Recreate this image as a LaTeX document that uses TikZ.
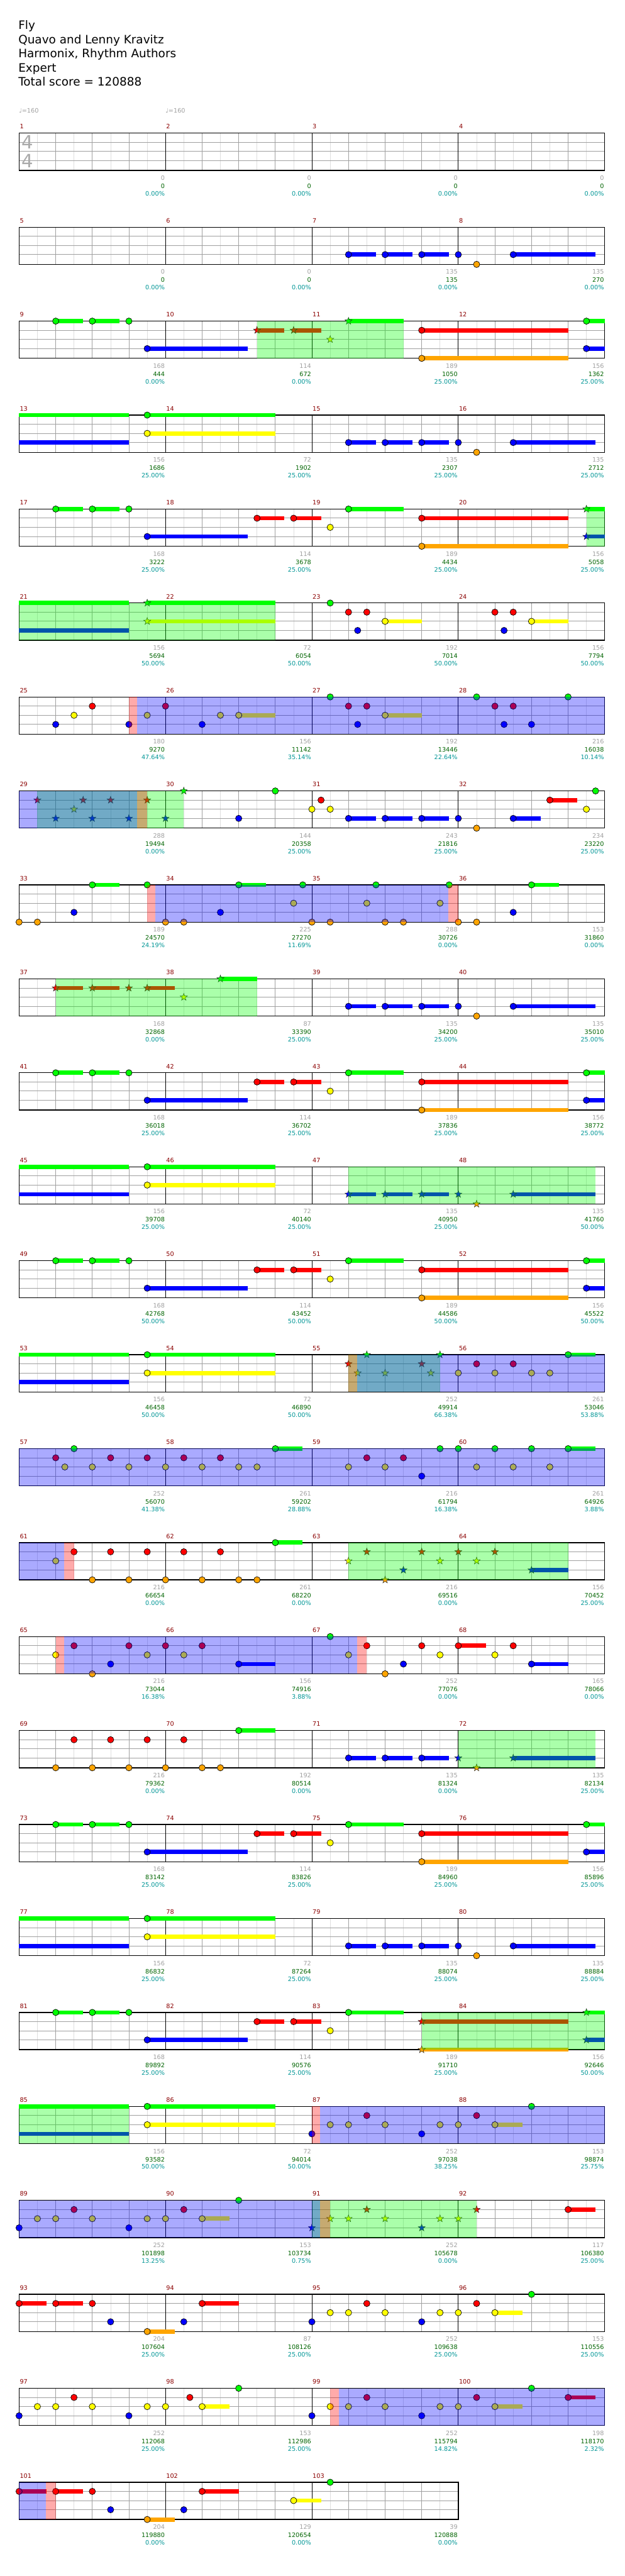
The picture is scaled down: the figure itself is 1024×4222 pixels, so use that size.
\documentclass[tikz,border=0pt]{standalone}
\usepackage{fontspec}
\setmainfont{DejaVu Sans}
\usepackage{xcolor}
\usepackage{tikz}

\definecolor{c0}{RGB}{0,255,0}
\definecolor{c1}{RGB}{255,0,0}
\definecolor{c2}{RGB}{255,255,0}
\definecolor{c3}{RGB}{0,0,255}
\definecolor{c4}{RGB}{255,165,0}
\definecolor{zgreen}{RGB}{0,255,0}
\definecolor{zblue}{RGB}{0,0,255}
\definecolor{zred}{RGB}{255,0,0}
\definecolor{numred}{RGB}{139,0,0}
\definecolor{scgray}{RGB}{160,160,160}
\definecolor{ttgreen}{RGB}{0,100,0}
\definecolor{pcteal}{RGB}{0,150,150}

\newcommand{\lanepos}[1]{(-15*#1-(#1==4))}
\newcommand{\hsus}[3]{\fill[c#3] (#1,{\lanepos{#3}+3.5}) rectangle (#2,{\lanepos{#3}-3.5});}
\newcommand{\hnote}[2]{\filldraw[notehead,fill=c#2] (#1,{\lanepos{#2}}) circle[radius=5.2pt];}
\newcommand{\hnotes}[3]{\hsus{#1}{#3}{#2}\hnote{#1}{#2}}
\newcommand{\hstar}[2]{\filldraw[starhead,fill=c#2,shift={(#1,{\lanepos{#2}})}] (90:6.2pt) -- (126:2.5pt) -- (162:6.2pt) -- (198:2.5pt) -- (234:6.2pt) -- (270:2.5pt) -- (306:6.2pt) -- (342:2.5pt) -- (18:6.2pt) -- (54:2.5pt) -- cycle;}
\newcommand{\hstars}[3]{\hsus{#1}{#3}{#2}\hstar{#1}{#2}}
\newcommand{\hzone}[3]{\fill[#3,fill opacity=0.333] (#1,0) rectangle (#2,-61);}
\newcommand{\staff}[1]{%
  \pgfmathtruncatemacro\stfa{#1-1}%
  \pgfmathtruncatemacro\stfb{#1-2}%
  \pgfmathtruncatemacro\stfc{#1-8}%
  \foreach \i in {1,3,...,\stfa} \draw[subline] (\i,0) -- (\i,-61);
  \foreach \i in {2,4,...,\stfb} \draw[beatline] (\i,0) -- (\i,-61);
  \foreach \l in {-15,-30,-45} \draw[staffline] (0,\l) -- (#1,\l);
  \foreach \i in {8,16,...,\stfc} \draw[barline] (\i,0) -- (\i,-61);
  \draw[frame] (0,0) rectangle (#1,-61);}
\newcommand{\bluerun}{\hnotes{18}{3}{19.5}\hnotes{20}{3}{21.5}\hnotes{22}{3}{23.5}\hnote{24}{3}\hnote{25}{4}\hnotes{27}{3}{31.5}}

\begin{document}
\begin{tikzpicture}[x=1pt,y=1pt,
  rowat/.style={shift={(31.3,{-218.3-154*#1})},x=30pt},
  subline/.style={draw={rgb,255:red,222;green,222;blue,222},line width=.8pt},
  beatline/.style={draw=scgray,line width=.8pt},
  staffline/.style={draw=scgray,line width=1pt},
  barline/.style={draw=black,line width=.9pt},
  frame/.style={draw=black,line width=1.3pt},
  notehead/.style={draw=black,line width=.7pt},
  starhead/.style={draw=black!85,line width=.5pt},
  title/.style={anchor=base west,inner sep=0pt,font=\fontsize{19}{23}\selectfont},
  tempo/.style={anchor=base west,inner sep=0pt,text=scgray,font=\fontsize{10}{12}\selectfont},
  timesig/.style={anchor=base west,inner sep=0pt,text=black!33,font=\fontsize{30}{30}\selectfont},
  mnum/.style={anchor=base west,inner sep=0pt,text=numred,font=\fontsize{10}{12}\selectfont},
  score/.style={anchor=base east,inner sep=0pt,text=scgray,font=\fontsize{10}{12}\selectfont},
  total/.style={anchor=base east,inner sep=0pt,text=ttgreen,font=\fontsize{10}{12}\selectfont},
  pct/.style={anchor=base east,inner sep=0pt,text=pcteal,font=\fontsize{10}{12}\selectfont}
]
\useasboundingbox[fill=white] (0,0) rectangle (1024,-4222);

\node[title] (song) at (30,-48.3) {Fly};
\node[title] (artist) at (30,-71.5) {Quavo and Lenny Kravitz};
\node[title] (authors) at (30,-94.7) {Harmonix, Rhythm Authors};
\node[title] (level) at (30,-117.9) {Expert};
\node[title] (totalscore) at (30,-141.1) {Total score = 120888};

\node[tempo] (tempo1) at (31,-185.5) {♩=160};
\node[tempo] (tempo2) at (271.3,-185.5) {♩=160};

\foreach \r in {0,...,24} {\begin{scope}[rowat=\r]\staff{32}\end{scope}}
\begin{scope}[rowat=25]\staff{24}\end{scope}

\node[timesig] (tsig1) at (35,-243.3) {4};
\node[timesig] (tsig2) at (35,-275) {4};

\begin{scope}[rowat=1]
\bluerun
\end{scope}
\begin{scope}[rowat=2]
\hnotes{2}{0}{3.5}\hnotes{4}{0}{5.5}\hnote{6}{0}\hnotes{7}{3}{12.5}\hstars{13}{1}{14.5}\hstars{15}{1}{16.5}\hstar{17}{2}\hstars{18}{0}{21}\hnotes{22}{1}{30}\hnotes{22}{4}{30}\hnotes{31}{0}{32}\hnotes{31}{3}{32}
\hzone{13}{21}{zgreen}
\end{scope}
\begin{scope}[rowat=3]
\hsus{0}{6}{0}\hsus{0}{6}{3}\hnotes{7}{0}{14}\hnotes{7}{2}{14}\bluerun
\end{scope}
\begin{scope}[rowat=4]
\hnotes{2}{0}{3.5}\hnotes{4}{0}{5.5}\hnote{6}{0}\hnotes{7}{3}{12.5}\hnotes{13}{1}{14.5}\hnotes{15}{1}{16.5}\hnote{17}{2}\hnotes{18}{0}{21}\hnotes{22}{1}{30}\hnotes{22}{4}{30}\hstars{31}{0}{32}\hstars{31}{3}{32}
\hzone{31}{32}{zgreen}
\end{scope}
\begin{scope}[rowat=5]
\hsus{0}{6}{0}\hsus{0}{6}{3}\hstars{7}{0}{14}\hstars{7}{2}{14}\hnote{17}{0}\hnote{18}{1}\hnote{19}{1}\hnote{18.5}{3}\hnotes{20}{2}{22}\hnote{26}{1}\hnote{27}{1}\hnote{26.5}{3}\hnotes{28}{2}{30}
\hzone{0}{14}{zgreen}
\end{scope}
\begin{scope}[rowat=6]
\hnote{2}{3}\hnote{3}{2}\hnote{4}{1}\hnote{6}{3}\hnote{7}{2}\hnote{8}{1}\hnote{10}{3}\hnote{11}{2}\hnotes{12}{2}{14}\hnote{17}{0}\hnote{18}{1}\hnote{19}{1}\hnote{18.5}{3}\hnotes{20}{2}{22}\hnote{25}{0}\hnote{26}{1}\hnote{27}{1}\hnote{26.5}{3}\hnote{28}{3}\hnote{30}{0}
\hzone{6}{6.46}{zred}\hzone{6.46}{32}{zblue}
\end{scope}
\begin{scope}[rowat=7]
\hstar{1}{1}\hstar{3.5}{1}\hstar{5}{1}\hstar{3}{2}\hstar{2}{3}\hstar{4}{3}\hstar{6}{3}\hstar{7}{1}\hstar{8}{3}\hstar{9}{0}\hnote{12}{3}\hnote{14}{0}\hnote{16}{2}\hnote{16.5}{1}\hnote{17}{2}\hnotes{18}{3}{19.5}\hnotes{20}{3}{21.5}\hnotes{22}{3}{23.5}\hnote{24}{3}\hnote{25}{4}\hnotes{27}{3}{28.5}\hnotes{29}{1}{30.5}\hnote{31}{2}\hnote{31.5}{0}
\hzone{1}{9}{zgreen}\hzone{0}{6.46}{zblue}\hzone{6.46}{7}{zred}
\end{scope}
\begin{scope}[rowat=8]
\hnote{0}{4}\hnote{1}{4}\hnote{3}{3}\hnotes{4}{0}{5.5}\hnote{7}{0}\hnote{8}{4}\hnote{9}{4}\hnote{11}{3}\hnotes{12}{0}{13.5}\hnote{15}{2}\hnote{15.5}{0}\hnote{16}{4}\hnote{17}{4}\hnote{19}{2}\hnote{19.5}{0}\hnote{20}{4}\hnote{21}{4}\hnote{23}{2}\hnote{23.5}{0}\hnote{24}{4}\hnote{25}{4}\hnote{27}{3}\hnotes{28}{0}{29.5}
\hzone{7}{7.46}{zred}\hzone{7.46}{23.46}{zblue}\hzone{23.46}{24}{zred}
\end{scope}
\begin{scope}[rowat=9]
\hstars{2}{1}{3.5}\hstars{4}{1}{5.5}\hstar{6}{1}\hstars{7}{1}{8.5}\hstar{9}{2}\hstars{11}{0}{13}\bluerun
\hzone{2}{13}{zgreen}
\end{scope}
\foreach \r in {10,12,18} {
\begin{scope}[rowat=\r]
\hnotes{2}{0}{3.5}\hnotes{4}{0}{5.5}\hnote{6}{0}\hnotes{7}{3}{12.5}\hnotes{13}{1}{14.5}\hnotes{15}{1}{16.5}\hnote{17}{2}\hnotes{18}{0}{21}\hnotes{22}{1}{30}\hnotes{22}{4}{30}\hnotes{31}{0}{32}\hnotes{31}{3}{32}
\end{scope}}
\begin{scope}[rowat=11]
\hsus{0}{6}{0}\hsus{0}{6}{3}\hnotes{7}{0}{14}\hnotes{7}{2}{14}\hstars{18}{3}{19.5}\hstars{20}{3}{21.5}\hstars{22}{3}{23.5}\hstar{24}{3}\hstar{25}{4}\hstars{27}{3}{31.5}
\hzone{18}{31.5}{zgreen}
\end{scope}
\begin{scope}[rowat=13]
\hsus{0}{6}{0}\hsus{0}{6}{3}\hnotes{7}{0}{14}\hnotes{7}{2}{14}\hstar{18}{1}\hstar{18.5}{2}\hstar{19}{0}\hstar{20}{2}\hstar{22}{1}\hstar{22.5}{2}\hstar{23}{0}\hnote{24}{2}\hnote{25}{1}\hnote{26}{2}\hnote{27}{1}\hnote{28}{2}\hnote{29}{2}\hnotes{30}{0}{31.5}
\hzone{18}{23}{zgreen}\hzone{18}{18.46}{zred}\hzone{18.46}{32}{zblue}
\end{scope}
\begin{scope}[rowat=14]
\hnote{2}{1}\hnote{2.5}{2}\hnote{3}{0}\hnote{4}{2}\hnote{5}{1}\hnote{6}{2}\hnote{7}{1}\hnote{8}{2}\hnote{9}{1}\hnote{10}{2}\hnote{11}{1}\hnote{12}{2}\hnote{13}{2}\hnotes{14}{0}{15.5}\hnote{18}{2}\hnote{19}{1}\hnote{20}{2}\hnote{21}{1}\hnote{22}{3}\hnote{23}{0}\hnote{24}{0}\hnote{25}{2}\hnote{26}{0}\hnote{27}{2}\hnote{28}{0}\hnote{29}{2}\hnotes{30}{0}{31.5}
\hzone{0}{32}{zblue}
\end{scope}
\begin{scope}[rowat=15]
\hnote{2}{2}\hnote{3}{1}\hnote{4}{4}\hnote{5}{1}\hnote{6}{4}\hnote{7}{1}\hnote{8}{4}\hnote{9}{1}\hnote{10}{4}\hnote{11}{1}\hnote{12}{4}\hnote{13}{4}\hnotes{14}{0}{15.5}\hstar{18}{2}\hstar{19}{1}\hstar{20}{4}\hstar{21}{3}\hstar{22}{1}\hstar{23}{2}\hstar{24}{1}\hstar{25}{2}\hstar{26}{1}\hstars{28}{3}{30}
\hzone{0}{2.46}{zblue}\hzone{2.46}{3}{zred}\hzone{18}{30}{zgreen}
\end{scope}
\begin{scope}[rowat=16]
\hnote{2}{2}\hnote{3}{1}\hnote{4}{4}\hnote{5}{3}\hnote{6}{1}\hnote{7}{2}\hnote{8}{1}\hnote{9}{2}\hnote{10}{1}\hnotes{12}{3}{14}\hnote{17}{0}\hnote{18}{2}\hnote{19}{1}\hnote{20}{4}\hnote{21}{3}\hnote{22}{1}\hnote{23}{2}\hnotes{24}{1}{25.5}\hnote{26}{2}\hnote{27}{1}\hnotes{28}{3}{30}
\hzone{2}{2.46}{zred}\hzone{2.46}{18.46}{zblue}\hzone{18.46}{19}{zred}
\end{scope}
\begin{scope}[rowat=17]
\hnote{2}{4}\hnote{3}{1}\hnote{4}{4}\hnote{5}{1}\hnote{6}{4}\hnote{7}{1}\hnote{8}{4}\hnote{9}{1}\hnote{10}{4}\hnote{11}{4}\hnotes{12}{0}{14}\hnotes{18}{3}{19.5}\hnotes{20}{3}{21.5}\hnotes{22}{3}{23.5}\hstar{24}{3}\hstar{25}{4}\hstars{27}{3}{31.5}
\hzone{24}{31.5}{zgreen}
\end{scope}
\begin{scope}[rowat=19]
\hsus{0}{6}{0}\hsus{0}{6}{3}\hnotes{7}{0}{14}\hnotes{7}{2}{14}\bluerun
\end{scope}
\begin{scope}[rowat=20]
\hnotes{2}{0}{3.5}\hnotes{4}{0}{5.5}\hnote{6}{0}\hnotes{7}{3}{12.5}\hnotes{13}{1}{14.5}\hnotes{15}{1}{16.5}\hnote{17}{2}\hnotes{18}{0}{21}\hstars{22}{1}{30}\hstars{22}{4}{30}\hstars{31}{0}{32}\hstars{31}{3}{32}
\hzone{22}{32}{zgreen}
\end{scope}
\begin{scope}[rowat=21]
\hsus{0}{6}{0}\hsus{0}{6}{3}\hnotes{7}{0}{14}\hnotes{7}{2}{14}\hnote{16}{3}\hnote{17}{2}\hnote{18}{2}\hnote{19}{1}\hnote{20}{2}\hnote{22}{3}\hnote{23}{2}\hnote{24}{2}\hnote{25}{1}\hnotes{26}{2}{27.5}\hnote{28}{0}
\hzone{0}{6}{zgreen}\hzone{16}{16.46}{zred}\hzone{16.46}{32}{zblue}
\end{scope}
\begin{scope}[rowat=22]
\hnote{0}{3}\hnote{1}{2}\hnote{2}{2}\hnote{3}{1}\hnote{4}{2}\hnote{6}{3}\hnote{7}{2}\hnote{8}{2}\hnote{9}{1}\hnotes{10}{2}{11.5}\hnote{12}{0}\hstar{16}{3}\hstar{17}{2}\hstar{18}{2}\hstar{19}{1}\hstar{20}{2}\hstar{22}{3}\hstar{23}{2}\hstar{24}{2}\hstar{25}{1}\hnotes{30}{1}{31.5}
\hzone{16}{25}{zgreen}\hzone{0}{16.46}{zblue}\hzone{16.46}{17}{zred}
\end{scope}
\begin{scope}[rowat=23]
\hnotes{0}{1}{1.5}\hnotes{2}{1}{3.5}\hnote{4}{1}\hnote{5}{3}\hnotes{7}{4}{8.5}\hnote{9}{3}\hnotes{10}{1}{12}\hnote{16}{3}\hnote{17}{2}\hnote{18}{2}\hnote{19}{1}\hnote{20}{2}\hnote{22}{3}\hnote{23}{2}\hnote{24}{2}\hnote{25}{1}\hnotes{26}{2}{27.5}\hnote{28}{0}
\end{scope}
\begin{scope}[rowat=24]
\hnote{0}{3}\hnote{1}{2}\hnote{2}{2}\hnote{3}{1}\hnote{4}{2}\hnote{6}{3}\hnote{7}{2}\hnote{8}{2}\hnote{9.33}{1}\hnotes{10}{2}{11.5}\hnote{12}{0}\hnote{16}{3}\hnote{17}{2}\hnote{18}{2}\hnote{19}{1}\hnote{20}{2}\hnote{22}{3}\hnote{23}{2}\hnote{24}{2}\hnote{25}{1}\hnotes{26}{2}{27.5}\hnote{28}{0}\hnotes{30}{1}{31.5}
\hzone{17}{17.46}{zred}\hzone{17.46}{32}{zblue}
\end{scope}
\begin{scope}[rowat=25]
\hnotes{0}{1}{1.5}\hnotes{2}{1}{3.5}\hnote{4}{1}\hnote{5}{3}\hnotes{7}{4}{8.5}\hnote{9}{3}\hnotes{10}{1}{12}\hnotes{15}{2}{16.5}\hnote{17}{0}
\hzone{0}{1.46}{zblue}\hzone{1.46}{2}{zred}
\end{scope}

\foreach \m/\vsc/\vtt/\vpc in {1/0/0/0.00,2/0/0/0.00,3/0/0/0.00,4/0/0/0.00,5/0/0/0.00,6/0/0/0.00,7/135/135/0.00,8/135/270/0.00,9/168/444/0.00,10/114/672/0.00,11/189/1050/25.00,12/156/1362/25.00,13/156/1686/25.00,14/72/1902/25.00,15/135/2307/25.00,16/135/2712/25.00,17/168/3222/25.00,18/114/3678/25.00,19/189/4434/25.00,20/156/5058/25.00,21/156/5694/50.00,22/72/6054/50.00,23/192/7014/50.00,24/156/7794/50.00,25/180/9270/47.64,26/156/11142/35.14,27/192/13446/22.64,28/216/16038/10.14,29/288/19494/0.00,30/144/20358/25.00,31/243/21816/25.00,32/234/23220/25.00,33/189/24570/24.19,34/225/27270/11.69,35/288/30726/0.00,36/153/31860/0.00,37/168/32868/0.00,38/87/33390/25.00,39/135/34200/25.00,40/135/35010/25.00,41/168/36018/25.00,42/114/36702/25.00,43/189/37836/25.00,44/156/38772/25.00,45/156/39708/25.00,46/72/40140/25.00,47/135/40950/25.00,48/135/41760/50.00,49/168/42768/50.00,50/114/43452/50.00,51/189/44586/50.00,52/156/45522/50.00,53/156/46458/50.00,54/72/46890/50.00,55/252/49914/66.38,56/261/53046/53.88,57/252/56070/41.38,58/261/59202/28.88,59/216/61794/16.38,60/261/64926/3.88,61/216/66654/0.00,62/261/68220/0.00,63/216/69516/0.00,64/156/70452/25.00,65/216/73044/16.38,66/156/74916/3.88,67/252/77076/0.00,68/165/78066/0.00,69/216/79362/0.00,70/192/80514/0.00,71/135/81324/0.00,72/135/82134/25.00,73/168/83142/25.00,74/114/83826/25.00,75/189/84960/25.00,76/156/85896/25.00,77/156/86832/25.00,78/72/87264/25.00,79/135/88074/25.00,80/135/88884/25.00,81/168/89892/25.00,82/114/90576/25.00,83/189/91710/25.00,84/156/92646/50.00,85/156/93582/50.00,86/72/94014/50.00,87/252/97038/38.25,88/153/98874/25.75,89/252/101898/13.25,90/153/103734/0.75,91/252/105678/0.00,92/117/106380/25.00,93/204/107604/25.00,94/87/108126/25.00,95/252/109638/25.00,96/153/110556/25.00,97/252/112068/25.00,98/153/112986/25.00,99/252/115794/14.82,100/198/118170/2.32,101/204/119880/0.00,102/129/120654/0.00,103/39/120888/0.00} {
  \pgfmathtruncatemacro\rr{(\m-1)/4}
  \pgfmathtruncatemacro\kk{\m-1-4*\rr}
  \pgfmathsetmacro\xa{31.3+240*\kk}
  \pgfmathsetmacro\yt{-218.3-154*\rr}
  \node[mnum] (mn\m) at (\xa+1,\yt+7) {\m};
  \node[score] (sc\m) at (\xa+239,\yt-77) {\vsc};
  \node[total] (tt\m) at (\xa+239,\yt-90.4) {\vtt};
  \node[pct] (pc\m) at (\xa+239,\yt-102.7) {\vpc\%};
}
\end{tikzpicture}
\end{document}
